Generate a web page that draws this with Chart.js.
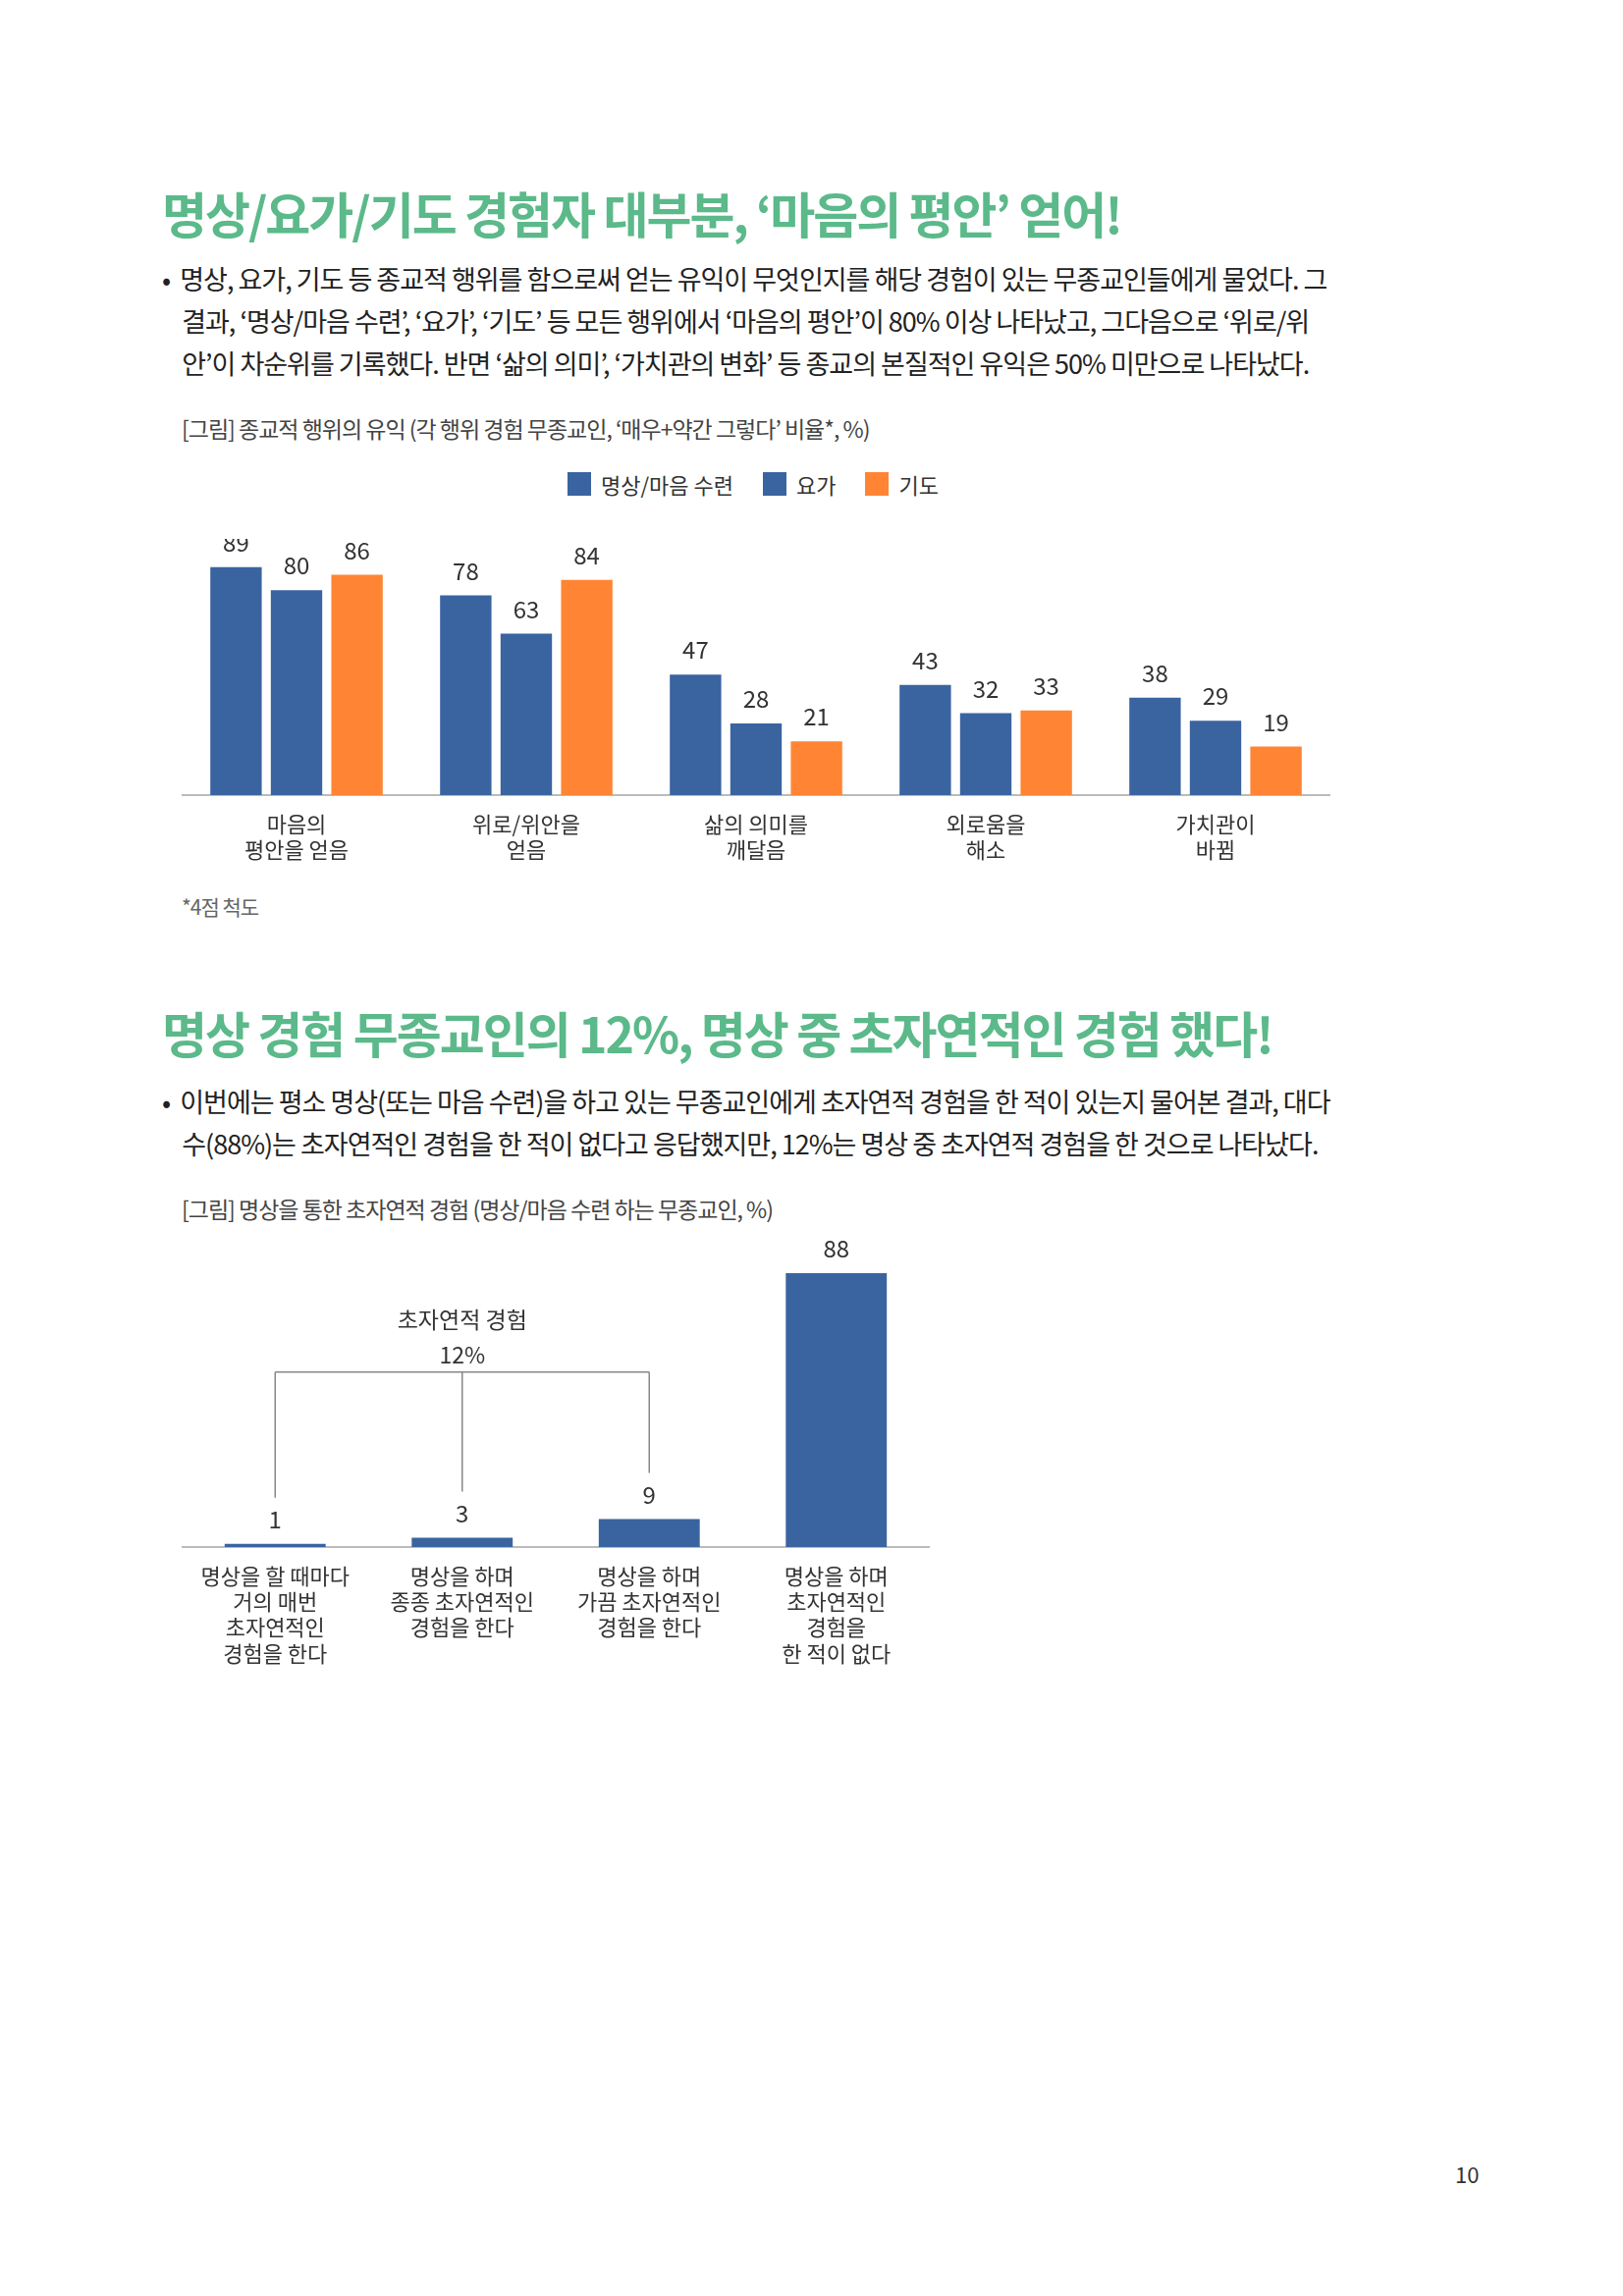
<!DOCTYPE html>
<html><head><meta charset="utf-8">
<script src="https://cdn.jsdelivr.net/npm/chart.js@4"></script>
<style>
body{margin:0;width:1653px;height:2339px;background:#fff;position:relative;font-family:"Noto Sans CJK KR","Noto Sans",sans-serif;color:#222;overflow:hidden}
.t{position:absolute;white-space:nowrap}
.h{color:#5bb98a;font-size:50px;font-weight:700;letter-spacing:-2px}
.p{font-size:27px;letter-spacing:-1px;line-height:43px}
.c{font-size:23px;color:#444;letter-spacing:-1px}
.cv{position:absolute}
</style></head><body>
<div class="t h" style="left:165px;top:180px">명상/요가/기도 경험자 대부분, ‘마음의 평안’ 얻어!</div>
<div class="t p" style="left:165px;top:262px">•&nbsp; 명상, 요가, 기도 등 종교적 행위를 함으로써 얻는 유익이 무엇인지를 해당 경험이 있는 무종교인들에게 물었다. 그<br>&nbsp;&nbsp;&nbsp; 결과, ‘명상/마음 수련’, ‘요가’, ‘기도’ 등 모든 행위에서 ‘마음의 평안’이 80% 이상 나타났고, 그다음으로 ‘위로/위<br>&nbsp;&nbsp;&nbsp; 안’이 차순위를 기록했다. 반면 ‘삶의 의미’, ‘가치관의 변화’ 등 종교의 본질적인 유익은 50% 미만으로 나타났다.</div>
<div class="t c" style="left:185px;top:419px">[그림] 종교적 행위의 유익 (각 행위 경험 무종교인, ‘매우+약간 그렇다’ 비율*, %)</div>
<div class="t c" style="left:185px;top:908px;font-size:21px;color:#666">*4점 척도</div>
<div class="t" style="left:578px;top:477px;font-size:22px;color:#333;display:flex;align-items:center">
<span style="display:inline-block;width:24px;height:24px;background:#3a64a0;margin-right:10px"></span>명상/마음 수련
<span style="display:inline-block;width:24px;height:24px;background:#3a64a0;margin:0 10px 0 30px"></span>요가
<span style="display:inline-block;width:24px;height:24px;background:#ff8534;margin:0 10px 0 30px"></span>기도</div>
<div class="cv" style="left:185px;top:549px;width:1170px;height:351px"><canvas id="c1"></canvas></div>

<div class="t h" style="left:165px;top:1015px">명상 경험 무종교인의 12%, 명상 중 초자연적인 경험 했다!</div>
<div class="t p" style="left:165px;top:1100px">•&nbsp; 이번에는 평소 명상(또는 마음 수련)을 하고 있는 무종교인에게 초자연적 경험을 한 적이 있는지 물어본 결과, 대다<br>&nbsp;&nbsp;&nbsp; 수(88%)는 초자연적인 경험을 한 적이 없다고 응답했지만, 12%는 명상 중 초자연적 경험을 한 것으로 나타났다.</div>
<div class="t c" style="left:185px;top:1214px">[그림] 명상을 통한 초자연적 경험 (명상/마음 수련 하는 무종교인, %)</div>
<div class="cv" style="left:185px;top:1259px;width:762px;height:487px"><canvas id="c2"></canvas></div>
<div class="t" style="left:1482px;top:2198px;font-size:22px;color:#333">10</div>
<script>
const cats1=[["마음의","평안을 얻음"],["위로/위안을","얻음"],["삶의 의미를","깨달음"],["외로움을","해소"],["가치관이","바뀜"]];
const meditation=[89,78,47,43,38];
const yoga=[80,63,28,32,29];
const prayer=[86,84,21,33,19];
const cats2=[["명상을 할 때마다","거의 매번","초자연적인","경험을 한다"],["명상을 하며","종종 초자연적인","경험을 한다"],["명상을 하며","가끔 초자연적인","경험을 한다"],["명상을 하며","초자연적인","경험을","한 적이 없다"]];
const supernatural=[1,3,9,88];
const bracketLabel=["초자연적 경험","12%"];

const FONT='"Noto Sans CJK KR","Noto Sans",sans-serif';
Chart.defaults.font.family=FONT;
Chart.defaults.animation=false;
const labelPlugin={id:'lbl',afterDatasetsDraw(ch){
 const ctx=ch.ctx;ctx.save();ctx.font='24px '+FONT;ctx.fillStyle='#333';ctx.textAlign='center';ctx.textBaseline='middle';
 ch.data.datasets.forEach((ds,i)=>{ch.getDatasetMeta(i).data.forEach((b,j)=>{ctx.fillText(ds.data[j],b.x,b.y-25);});});
 ctx.restore();}};
function xs(h,labels){return {grid:{display:false,drawTicks:false},border:{color:'#bbb',width:2},
 ticks:{color:'#333',font:{size:22},padding:16,autoSkip:false,maxRotation:0},afterFit(s){s.height=h;}};}
const ys={display:false,min:0,max:100};
new Chart(document.getElementById('c1'),{type:'bar',
 data:{labels:cats1,datasets:[
  {label:'명상/마음 수련',data:meditation,backgroundColor:'#3a64a0'},
  {label:'요가',data:yoga,backgroundColor:'#3a64a0'},
  {label:'기도',data:prayer,backgroundColor:'#ff8534'}]},
 options:{responsive:true,maintainAspectRatio:false,layout:{padding:0},
  datasets:{bar:{categoryPercentage:0.79,barPercentage:0.85}},
  plugins:{legend:{display:false},tooltip:{enabled:false}},
  scales:{x:xs(90),y:ys}},plugins:[labelPlugin]});
const bracketPlugin={id:'br',afterDatasetsDraw(ch){
 const ctx=ch.ctx,m=ch.getDatasetMeta(0).data,y=ch.scales.y.getPixelForValue(56.2);
 ctx.save();ctx.strokeStyle='#888';ctx.lineWidth=1.5;ctx.beginPath();
 ctx.moveTo(m[0].x,y);ctx.lineTo(m[2].x,y);
 for(let i=0;i<3;i++){ctx.moveTo(m[i].x,y);ctx.lineTo(m[i].x,m[i].y-47);}
 ctx.stroke();ctx.font='23px '+FONT;ctx.fillStyle='#333';ctx.textAlign='center';ctx.textBaseline='middle';
 ctx.fillText(bracketLabel[0],m[1].x,y-54);ctx.fillText(bracketLabel[1],m[1].x,y-18);ctx.restore();}};
new Chart(document.getElementById('c2'),{type:'bar',
 data:{labels:cats2,datasets:[{data:supernatural,backgroundColor:'#3a64a0'}]},
 options:{responsive:true,maintainAspectRatio:false,layout:{padding:0},
  datasets:{bar:{categoryPercentage:1,barPercentage:0.54}},
  plugins:{legend:{display:false},tooltip:{enabled:false}},
  scales:{x:xs(170),y:ys}},plugins:[labelPlugin,bracketPlugin]});
</script></body></html>
